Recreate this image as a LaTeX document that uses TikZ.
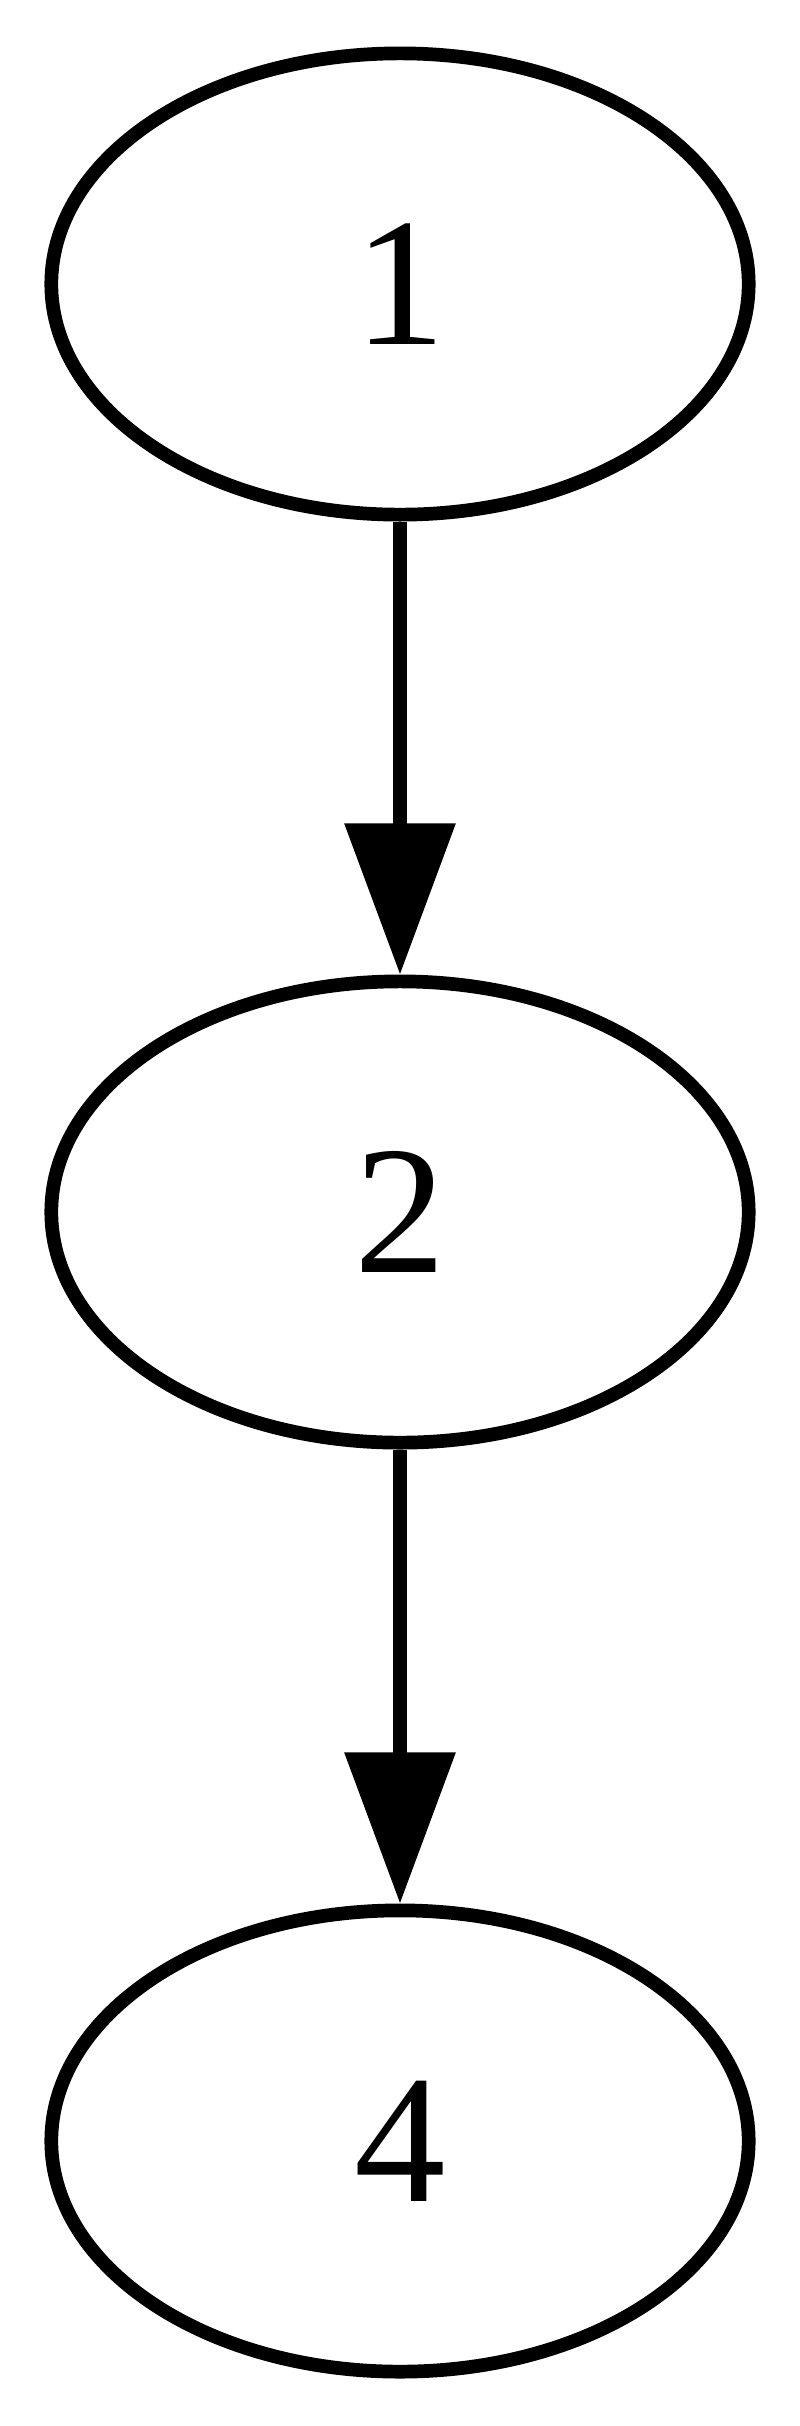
\documentclass[tikz,border=0pt]{standalone}
\usepackage{fontspec}
\setmainfont{Liberation Serif}
\usetikzlibrary{shapes.geometric,arrows.meta}
\begin{document}
\begin{tikzpicture}[x=0.01cm,y=-0.01cm,
  gnode/.style={ellipse, draw, line width=3.9pt, minimum width=6.97cm, minimum height=4.61cm, inner sep=0pt, font=\fontsize{52}{60}\selectfont},
  gedge/.style={line width=3.7pt, -{Triangle[length=1.51cm,width=1.08cm]}}]
\useasboundingbox (0,0) rectangle (800,2426);
\node[gnode] (n1) at (400,284) {1};
\node[gnode] (n2) at (400,1212) {2};
\node[gnode] (n4) at (400,2141) {4};
\draw[gedge] (n1) -- (n2);
\draw[gedge] (n2) -- (n4);
\end{tikzpicture}
\end{document}
